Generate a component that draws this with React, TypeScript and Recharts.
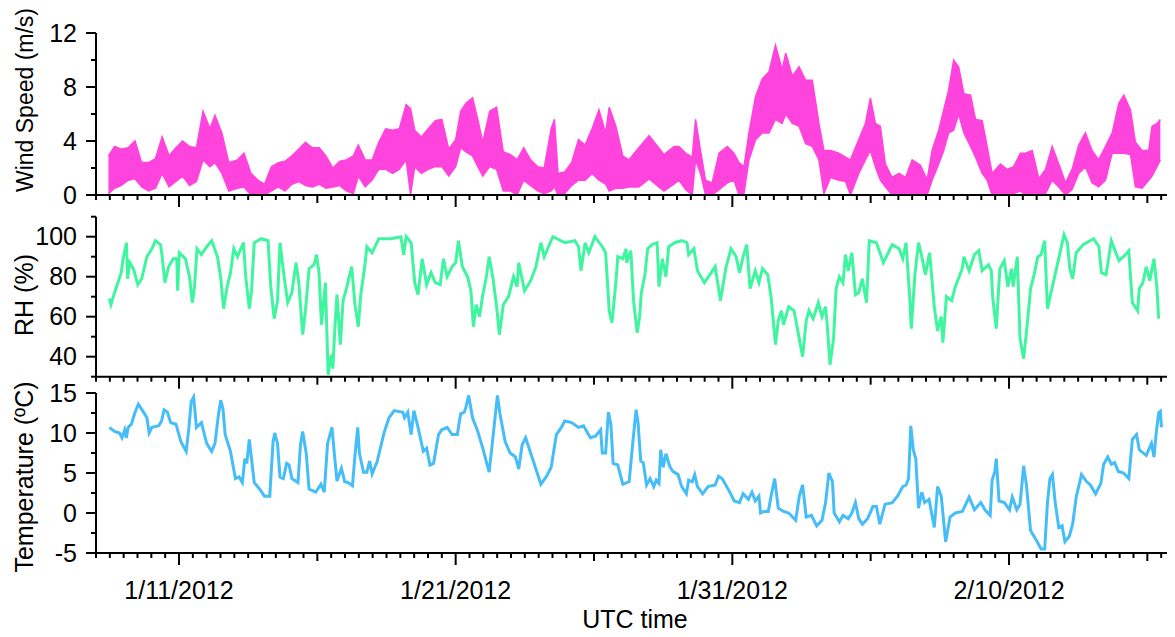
import { LineChart, Line, AreaChart, Area, XAxis, YAxis } from 'recharts';

// time axis: days since 1/8/2012 00:00 UTC
const xMinorTicks = Array.from({ length: 79 }, (_, i) => i * 0.5);
const majorDays = [3, 13, 23, 33];
const majorLabels = ['1/11/2012', '1/21/2012', '1/31/2012', '2/10/2012'];

const windDay = [0.45, 0.67, 0.91, 1.16, 1.41, 1.65, 1.9, 2.15, 2.39, 2.64, 2.89, 3.13, 3.38, 3.63, 3.87, 4.12, 4.3, 4.55, 4.8, 5.11, 5.35, 5.6, 5.85, 6.09, 6.34, 6.59, 6.83, 7.08, 7.33, 7.57, 7.82, 8.07, 8.31, 8.56, 8.81, 9.05, 9.3, 9.48, 9.73, 9.98, 10.22, 10.47, 10.72, 10.96, 11.21, 11.37, 11.52, 11.76, 12.01, 12.26, 12.5, 12.75, 13.0, 13.18, 13.37, 13.61, 13.8, 13.98, 14.23, 14.48, 14.72, 14.97, 15.22, 15.46, 15.71, 15.96, 16.2, 16.45, 16.57, 16.7, 16.94, 17.19, 17.44, 17.68, 17.93, 18.18, 18.42, 18.55, 18.79, 19.04, 19.26, 19.62, 19.99, 20.53, 20.89, 21.07, 21.31, 21.55, 21.67, 21.85, 22.03, 22.27, 22.52, 22.82, 23.06, 23.24, 23.42, 23.6, 23.84, 24.08, 24.32, 24.56, 24.8, 24.93, 25.17, 25.41, 25.65, 25.89, 26.13, 26.31, 26.55, 26.85, 27.09, 27.27, 27.57, 27.81, 27.99, 28.17, 28.35, 28.53, 28.77, 29.02, 29.26, 29.5, 29.8, 30.04, 30.22, 30.46, 30.64, 30.82, 31.0, 31.18, 31.37, 31.61, 31.79, 32.03, 32.21, 32.39, 32.69, 32.93, 33.17, 33.41, 33.59, 33.84, 34.08, 34.32, 34.56, 34.8, 35.04, 35.28, 35.52, 35.76, 36.0, 36.24, 36.49, 36.73, 36.97, 37.15, 37.39, 37.57, 37.81, 38.05, 38.17, 38.35, 38.47];
const windHigh = [2.9, 3.6, 3.4, 3.5, 4.0, 2.4, 2.4, 2.7, 4.3, 2.9, 3.5, 4.0, 3.6, 3.5, 6.2, 4.9, 5.9, 4.6, 2.4, 2.6, 3.1, 1.6, 1.1, 0.8, 2.1, 2.4, 2.5, 2.9, 3.4, 3.9, 3.5, 3.5, 2.9, 2.0, 2.5, 2.6, 2.9, 3.7, 2.6, 2.6, 3.9, 4.9, 4.8, 4.9, 6.7, 6.4, 4.8, 4.3, 4.9, 5.5, 5.6, 3.4, 4.1, 6.2, 6.8, 7.2, 5.6, 3.9, 6.2, 6.5, 3.2, 3.0, 2.6, 3.5, 2.6, 2.1, 2.0, 4.9, 5.6, 1.6, 1.7, 2.4, 4.1, 3.7, 4.9, 6.3, 4.6, 6.5, 5.1, 2.9, 2.6, 3.5, 4.4, 3.0, 3.6, 3.6, 3.1, 2.8, 5.6, 3.3, 1.1, 0.9, 3.1, 3.6, 3.1, 2.4, 2.1, 4.6, 7.3, 8.6, 9.1, 11.1, 9.3, 10.5, 8.8, 9.5, 8.5, 8.5, 5.3, 3.3, 3.3, 3.1, 2.8, 2.6, 4.1, 5.3, 7.2, 5.3, 5.1, 2.3, 1.3, 1.6, 1.3, 2.6, 2.2, 1.1, 3.3, 4.8, 6.3, 7.8, 10.0, 9.5, 7.5, 7.4, 5.6, 5.5, 3.6, 1.6, 2.3, 1.9, 2.1, 3.1, 3.1, 3.3, 1.2, 1.9, 3.6, 2.3, 0.9, 1.9, 3.7, 4.6, 3.3, 2.6, 3.6, 4.6, 6.8, 7.4, 6.3, 3.9, 3.3, 3.3, 5.1, 5.3, 5.6];
const windLow = [0.1, 0.5, 0.7, 1.1, 1.2, 0.6, 0.3, 0.5, 1.6, 0.6, 1.0, 1.4, 0.7, 1.0, 2.6, 2.1, 2.4, 1.6, 0.3, 0.5, 0.6, 0, 0, 0, 0.3, 0.6, 0.3, 0.8, 1.0, 0.7, 0.6, 0.8, 0.5, 0.6, 0.7, 0.3, 0.1, 1.4, 0.6, 1.1, 1.9, 1.9, 1.6, 1.9, 2.6, 0, 2.1, 1.6, 1.9, 2.1, 2.1, 1.4, 2.1, 3.5, 3.2, 2.9, 2.1, 1.4, 2.1, 1.9, 0.3, 0.3, 0, 1.1, 0.7, 0.3, 0.1, 0.3, 0.6, 0, 0.1, 0.7, 1.1, 1.1, 1.6, 1.1, 0.8, 0.3, 0.5, 0.5, 0.6, 0.6, 1.2, 0.3, 0.8, 1.1, 0.4, 0, 2.6, 1.6, 0, 0, 0.4, 0.9, 1.1, 0, 0.1, 2.6, 4.1, 4.6, 4.6, 5.6, 5.3, 6.0, 5.3, 5.1, 3.8, 3.6, 2.6, 0.1, 1.3, 1.1, 1.0, 0, 1.6, 2.6, 3.3, 2.1, 1.1, 0.6, 0, 0, 0, 0, 0, 0, 1.1, 2.3, 3.3, 4.6, 4.8, 6.0, 4.6, 3.6, 2.8, 1.6, 1.1, 0, 0, 0, 0.1, 0.3, 0, 0, 0, 0.1, 1.1, 0.6, 0, 0.4, 1.6, 2.1, 0.9, 0.6, 1.1, 3.1, 3.1, 3.1, 3.0, 0.6, 0.5, 1.1, 1.4, 2.1, 2.6];

const rhDay = [0.48, 0.54, 0.67, 0.91, 0.98, 1.1, 1.14, 1.22, 1.35, 1.51, 1.65, 1.84, 2.02, 2.15, 2.33, 2.39, 2.49, 2.62, 2.79, 2.92, 2.95, 3.01, 3.23, 3.38, 3.48, 3.56, 3.65, 3.81, 4.0, 4.18, 4.39, 4.51, 4.61, 4.74, 4.86, 4.98, 5.11, 5.33, 5.41, 5.54, 5.62, 5.72, 5.97, 6.22, 6.31, 6.44, 6.56, 6.65, 6.77, 6.93, 7.08, 7.23, 7.33, 7.47, 7.57, 7.7, 7.88, 7.97, 8.06, 8.15, 8.29, 8.39, 8.5, 8.56, 8.62, 8.71, 8.83, 8.93, 9.05, 9.24, 9.36, 9.48, 9.57, 9.73, 9.79, 9.98, 10.22, 10.66, 11.02, 11.12, 11.21, 11.39, 11.52, 11.64, 11.79, 11.95, 12.11, 12.26, 12.44, 12.56, 12.69, 12.87, 13.0, 13.1, 13.24, 13.43, 13.55, 13.64, 13.74, 13.86, 13.98, 14.11, 14.21, 14.35, 14.48, 14.58, 14.72, 14.91, 15.09, 15.22, 15.28, 15.49, 15.71, 15.9, 16.08, 16.2, 16.51, 16.94, 17.31, 17.44, 17.53, 17.68, 17.81, 18.03, 18.3, 18.42, 18.55, 18.65, 18.79, 18.86, 19.04, 19.16, 19.18, 19.33, 19.43, 19.56, 19.65, 19.71, 19.84, 19.94, 20.09, 20.28, 20.35, 20.47, 20.6, 20.7, 20.92, 21.17, 21.36, 21.42, 21.61, 21.74, 21.99, 22.19, 22.38, 22.57, 22.76, 22.95, 23.14, 23.26, 23.39, 23.52, 23.64, 23.83, 23.96, 24.09, 24.28, 24.4, 24.56, 24.66, 24.78, 24.85, 25.04, 25.23, 25.42, 25.54, 25.67, 25.77, 25.92, 26.11, 26.24, 26.37, 26.43, 26.53, 26.66, 26.75, 26.87, 27.0, 27.09, 27.19, 27.32, 27.45, 27.57, 27.7, 27.85, 27.95, 28.21, 28.46, 28.78, 29.03, 29.16, 29.28, 29.41, 29.47, 29.6, 29.73, 29.85, 29.98, 30.13, 30.3, 30.42, 30.55, 30.61, 30.74, 30.93, 31.06, 31.31, 31.37, 31.56, 31.75, 31.91, 32.03, 32.26, 32.36, 32.41, 32.54, 32.67, 32.83, 32.96, 33.09, 33.15, 33.3, 33.4, 33.53, 33.66, 33.78, 33.91, 34.04, 34.16, 34.29, 34.39, 34.99, 35.11, 35.2, 35.3, 35.43, 35.68, 36.06, 36.25, 36.34, 36.51, 36.7, 36.89, 36.98, 37.14, 37.33, 37.46, 37.65, 37.71, 37.84, 37.96, 38.09, 38.24, 38.35, 38.41];
const rhVal = [69, 66, 72, 82, 89, 97, 79, 87, 84, 76, 79, 90, 94, 98, 96, 90, 77, 85, 89, 89, 73, 92, 89, 80, 67, 75, 94, 91, 95, 98, 90, 79, 64, 75, 82, 94, 90, 97, 80, 64, 73, 97, 99, 98, 76, 59, 68, 97, 83, 67, 72, 87, 77, 51, 63, 84, 86, 91, 82, 56, 77, 31, 41, 34, 51, 71, 46, 68, 74, 85, 66, 55, 71, 87, 95, 92, 99, 99, 100, 91, 100, 97, 77, 71, 89, 76, 82, 77, 76, 89, 80, 85, 87, 98, 85, 80, 73, 55, 66, 60, 71, 80, 90, 79, 65, 51, 66, 70, 80, 75, 87, 73, 78, 85, 97, 90, 100, 97, 98, 95, 83, 97, 92, 100, 95, 92, 63, 57, 77, 90, 89, 94, 87, 93, 68, 52, 60, 72, 81, 94, 96, 97, 75, 89, 80, 95, 97, 98, 97, 91, 94, 83, 77, 81, 85, 68, 84, 94, 90, 82, 90, 96, 74, 83, 77, 84, 81, 70, 46, 58, 63, 56, 65, 63, 49, 40, 58, 63, 59, 67, 60, 65, 56, 36, 49, 74, 80, 77, 91, 83, 92, 71, 72, 79, 67, 98, 97, 87, 96, 94, 89, 97, 70, 54, 81, 97, 90, 81, 92, 65, 53, 60, 47, 70, 68, 75, 84, 90, 83, 91, 93, 83, 86, 83, 70, 54, 84, 88, 75, 84, 75, 90, 49, 39, 56, 74, 81, 90, 91, 98, 64, 101, 97, 84, 79, 92, 96, 99, 95, 82, 81, 98, 91, 88, 90, 93, 67, 63, 74, 77, 85, 78, 89, 74, 59];

const tempDay = [0.48, 0.67, 0.85, 0.94, 1.04, 1.1, 1.16, 1.28, 1.41, 1.53, 1.72, 1.84, 1.92, 2.02, 2.27, 2.37, 2.46, 2.58, 2.7, 2.89, 3.07, 3.26, 3.36, 3.44, 3.53, 3.63, 3.81, 4.0, 4.18, 4.3, 4.43, 4.51, 4.59, 4.67, 4.86, 5.04, 5.17, 5.29, 5.38, 5.45, 5.54, 5.62, 5.72, 5.91, 6.09, 6.28, 6.4, 6.46, 6.56, 6.65, 6.77, 6.89, 6.98, 7.08, 7.3, 7.39, 7.47, 7.6, 7.7, 7.94, 8.13, 8.25, 8.37, 8.53, 8.62, 8.71, 8.87, 8.99, 9.11, 9.27, 9.36, 9.46, 9.52, 9.67, 9.79, 9.89, 9.98, 10.16, 10.41, 10.59, 10.78, 11.09, 11.15, 11.27, 11.39, 11.49, 11.64, 11.83, 11.95, 12.07, 12.2, 12.38, 12.5, 12.69, 12.87, 13.06, 13.18, 13.31, 13.37, 13.47, 13.61, 13.8, 13.98, 14.11, 14.21, 14.33, 14.45, 14.51, 14.6, 14.79, 14.97, 15.16, 15.28, 15.4, 15.53, 15.71, 15.9, 16.08, 16.27, 16.45, 16.64, 16.82, 16.94, 17.19, 17.44, 17.62, 17.87, 18.05, 18.24, 18.3, 18.42, 18.52, 18.61, 18.69, 18.86, 19.04, 19.27, 19.4, 19.52, 19.59, 19.69, 19.78, 19.9, 20.03, 20.16, 20.25, 20.35, 20.41, 20.5, 20.6, 20.73, 20.85, 21.04, 21.17, 21.34, 21.42, 21.55, 21.64, 21.74, 21.93, 22.12, 22.38, 22.5, 22.63, 22.88, 23.07, 23.26, 23.39, 23.58, 23.71, 23.83, 23.96, 24.02, 24.15, 24.3, 24.4, 24.53, 24.66, 24.85, 25.04, 25.29, 25.42, 25.54, 25.67, 25.86, 26.05, 26.24, 26.37, 26.49, 26.62, 26.68, 26.87, 27.0, 27.19, 27.32, 27.45, 27.57, 27.7, 27.89, 28.08, 28.21, 28.33, 28.52, 28.78, 28.97, 29.16, 29.28, 29.37, 29.45, 29.54, 29.63, 29.73, 29.85, 29.95, 30.11, 30.3, 30.42, 30.55, 30.71, 30.87, 31.06, 31.31, 31.44, 31.56, 31.75, 31.98, 32.13, 32.32, 32.39, 32.49, 32.54, 32.64, 32.83, 33.02, 33.12, 33.28, 33.4, 33.53, 33.63, 33.78, 33.97, 34.16, 34.29, 34.39, 34.48, 34.57, 34.67, 34.8, 34.92, 35.02, 35.18, 35.3, 35.43, 35.62, 35.81, 35.94, 36.13, 36.32, 36.42, 36.57, 36.7, 36.82, 36.95, 37.14, 37.33, 37.46, 37.61, 37.71, 37.96, 38.15, 38.24, 38.32, 38.41, 38.47, 38.51];
const tempVal = [10.7, 10.2, 10.0, 9.4, 10.4, 9.4, 10.7, 11.1, 12.6, 13.6, 12.6, 11.9, 10.0, 10.7, 10.9, 11.5, 12.9, 12.6, 11.3, 11.1, 8.9, 7.7, 10.7, 13.9, 14.5, 10.7, 11.3, 8.7, 7.7, 8.7, 12.4, 14.1, 13.0, 9.8, 7.7, 4.3, 4.5, 3.8, 6.8, 6.2, 9.2, 6.8, 3.8, 3.0, 2.1, 2.1, 8.9, 10.0, 8.7, 4.5, 4.3, 6.2, 6.0, 4.3, 3.8, 8.5, 10.2, 7.4, 3.0, 2.6, 3.6, 2.6, 8.7, 10.7, 7.2, 4.0, 5.6, 3.9, 3.8, 3.4, 7.2, 10.7, 7.5, 5.1, 5.1, 6.5, 4.9, 6.4, 10.0, 11.9, 12.8, 12.6, 11.9, 12.6, 9.8, 12.8, 10.7, 7.7, 8.1, 6.0, 6.2, 9.8, 10.4, 10.7, 9.8, 9.8, 12.4, 12.6, 13.2, 14.7, 11.9, 10.2, 8.1, 6.4, 5.1, 8.9, 12.8, 14.7, 12.4, 8.9, 7.5, 7.0, 5.5, 8.5, 9.4, 7.5, 5.5, 3.6, 4.5, 5.7, 9.8, 10.7, 11.5, 11.3, 10.7, 10.9, 9.4, 9.6, 10.4, 7.5, 7.5, 12.6, 11.1, 6.2, 6.0, 3.6, 3.9, 8.7, 12.9, 11.4, 6.5, 6.3, 3.5, 4.3, 3.3, 4.1, 3.7, 7.9, 5.7, 7.4, 5.9, 5.2, 4.8, 3.3, 2.4, 4.1, 3.9, 4.8, 3.3, 2.4, 3.3, 3.5, 4.6, 4.3, 2.8, 1.5, 1.3, 2.4, 1.7, 2.6, 1.5, 2.1, 0.0, 0.2, 0.2, 2.1, 4.3, 0.6, 0.2, 0.0, -0.9, 2.1, 3.5, -0.5, -0.3, -1.6, -0.9, 1.3, 5.0, 3.9, 0.0, -1.1, -0.3, -0.7, 0.0, 1.3, -0.7, -1.4, -0.7, 0.8, 0.8, -1.4, 1.1, 1.3, 2.1, 3.3, 3.5, 4.3, 10.9, 7.9, 6.8, 0.6, 2.6, 1.3, 1.7, -1.8, 3.3, 2.1, -3.6, -0.5, 0.0, 0.2, 1.1, 2.0, 0.4, 1.3, 0.4, -0.3, 4.1, 5.2, 6.8, 1.5, 1.3, 0.4, 2.0, 0.4, 1.1, 5.9, 3.5, -2.2, -3.3, -4.5, -4.5, 1.3, 4.3, 4.8, 1.3, -1.8, -1.6, -3.6, -2.9, -1.4, 2.0, 4.8, 3.9, 3.5, 2.4, 3.7, 6.1, 7.0, 6.1, 6.3, 5.2, 5.0, 4.3, 9.2, 9.8, 7.9, 7.2, 8.7, 7.0, 10.0, 12.5, 12.7, 10.7];

const windData = windDay.map((d, i) => ({ d, range: [windLow[i], windHigh[i]] }));
const rhData = rhDay.map((d, i) => ({ d, rh: rhVal[i] }));
const tempData = tempDay.map((d, i) => ({ d, t: tempVal[i] }));

const FONT = '"Liberation Sans", Arial, sans-serif';
const CHART_W = 1175;
const Y_W = 96;

function makeXTick(showLabels: boolean) {
  return (props: any) => {
    const { x, y, payload } = props;
    const v = payload.value;
    const i = majorDays.indexOf(v);
    const len = i >= 0 ? 12 : (v - 3) % 5 === 0 ? 8 : 5;
    return (
      <g>
        <line x1={x} x2={x} y1={y} y2={y + len} stroke="#000" strokeWidth={2} />
        {showLabels && i >= 0 && (
          <text x={x} y={y + 46} textAnchor="middle" fontSize={25} fontFamily={FONT} fill="#000">
            {majorLabels[i]}
          </text>
        )}
      </g>
    );
  };
}

function makeYTick(labels: number[]) {
  return (props: any) => {
    const { x, y, payload } = props;
    const major = labels.includes(payload.value);
    return (
      <g>
        <line x1={x - (major ? 10 : 5)} x2={x} y1={y} y2={y} stroke="#000" strokeWidth={2} />
        {major && (
          <text x={x - 19} y={y} dy="0.35em" textAnchor="end" fontSize={25} fontFamily={FONT} fill="#000">
            {payload.value}
          </text>
        )}
      </g>
    );
  };
}

const axisLine = { stroke: '#000', strokeWidth: 2 };

export default function App() {
  const xAxisProps = {
    dataKey: 'd',
    type: 'number' as const,
    domain: [0, 39],
    ticks: xMinorTicks,
    interval: 0 as const,
    tickSize: 0,
    tickMargin: 0,
    tickLine: false,
    axisLine,
    allowDataOverflow: true,
  };
  const yAxisProps = {
    width: Y_W,
    tickSize: 0,
    tickMargin: 0,
    tickLine: false,
    axisLine,
    interval: 0 as const,
    allowDataOverflow: true,
  };

  // wrapper cancels the body margin so positions below are page pixels
  return (
    <div style={{ position: 'relative', margin: -8, width: CHART_W, height: 637, overflow: 'hidden', fontFamily: FONT }}>
      <div style={{ position: 'absolute', top: 8, left: 0 }}>
        <AreaChart width={CHART_W} height={207} data={windData} margin={{ top: 25, right: 0, bottom: 0, left: 0 }}>
          <XAxis {...xAxisProps} height={20} tick={makeXTick(false)} />
          <YAxis {...yAxisProps} domain={[0, 12]} ticks={[0, 2, 4, 6, 8, 10, 12]} tick={makeYTick([0, 4, 8, 12])} />
          <Area
            type="linear"
            dataKey="range"
            stroke="#ff44dd"
            strokeWidth={1.5}
            fill="#ff44dd"
            fillOpacity={1}
            isAnimationActive={false}
          />
        </AreaChart>
      </div>
      <div style={{ position: 'absolute', top: 196, left: 0 }}>
        <LineChart width={CHART_W} height={200.7} data={rhData} margin={{ top: 20.7, right: 0, bottom: 0, left: 0 }}>
          <XAxis {...xAxisProps} height={20} tick={makeXTick(false)} />
          <YAxis {...yAxisProps} domain={[30, 110]} ticks={[30, 40, 50, 60, 70, 80, 90, 100, 110]} tick={makeYTick([40, 60, 80, 100])} />
          <Line type="linear" dataKey="rh" stroke="#40f5a0" strokeWidth={3} dot={false} isAnimationActive={false} />
        </LineChart>
      </div>
      <div style={{ position: 'absolute', top: 378, left: 0 }}>
        <LineChart width={CHART_W} height={255} data={tempData} margin={{ top: 15, right: 0, bottom: 0, left: 0 }}>
          <XAxis {...xAxisProps} height={80} tick={makeXTick(true)} />
          <YAxis {...yAxisProps} domain={[-5, 15]} ticks={[-5, -2.5, 0, 2.5, 5, 7.5, 10, 12.5, 15]} tick={makeYTick([-5, 0, 5, 10, 15])} />
          <Line type="linear" dataKey="t" stroke="#45bdf8" strokeWidth={3} dot={false} isAnimationActive={false} />
        </LineChart>
      </div>
      <svg width={CHART_W} height={637} style={{ position: 'absolute', top: 0, left: 0, pointerEvents: 'none' }}>
        <g fontFamily={FONT} fill="#000" textAnchor="middle">
          <text transform="translate(33,100) rotate(-90)" fontSize={23}>Wind Speed (m/s)</text>
          <text transform="translate(33,295) rotate(-90)" fontSize={25}>RH (%)</text>
          <text transform="translate(33,477) rotate(-90)" fontSize={25}>Temperature (ºC)</text>
          <text x={635} y={628} fontSize={25}>UTC time</text>
        </g>
      </svg>
    </div>
  );
}
